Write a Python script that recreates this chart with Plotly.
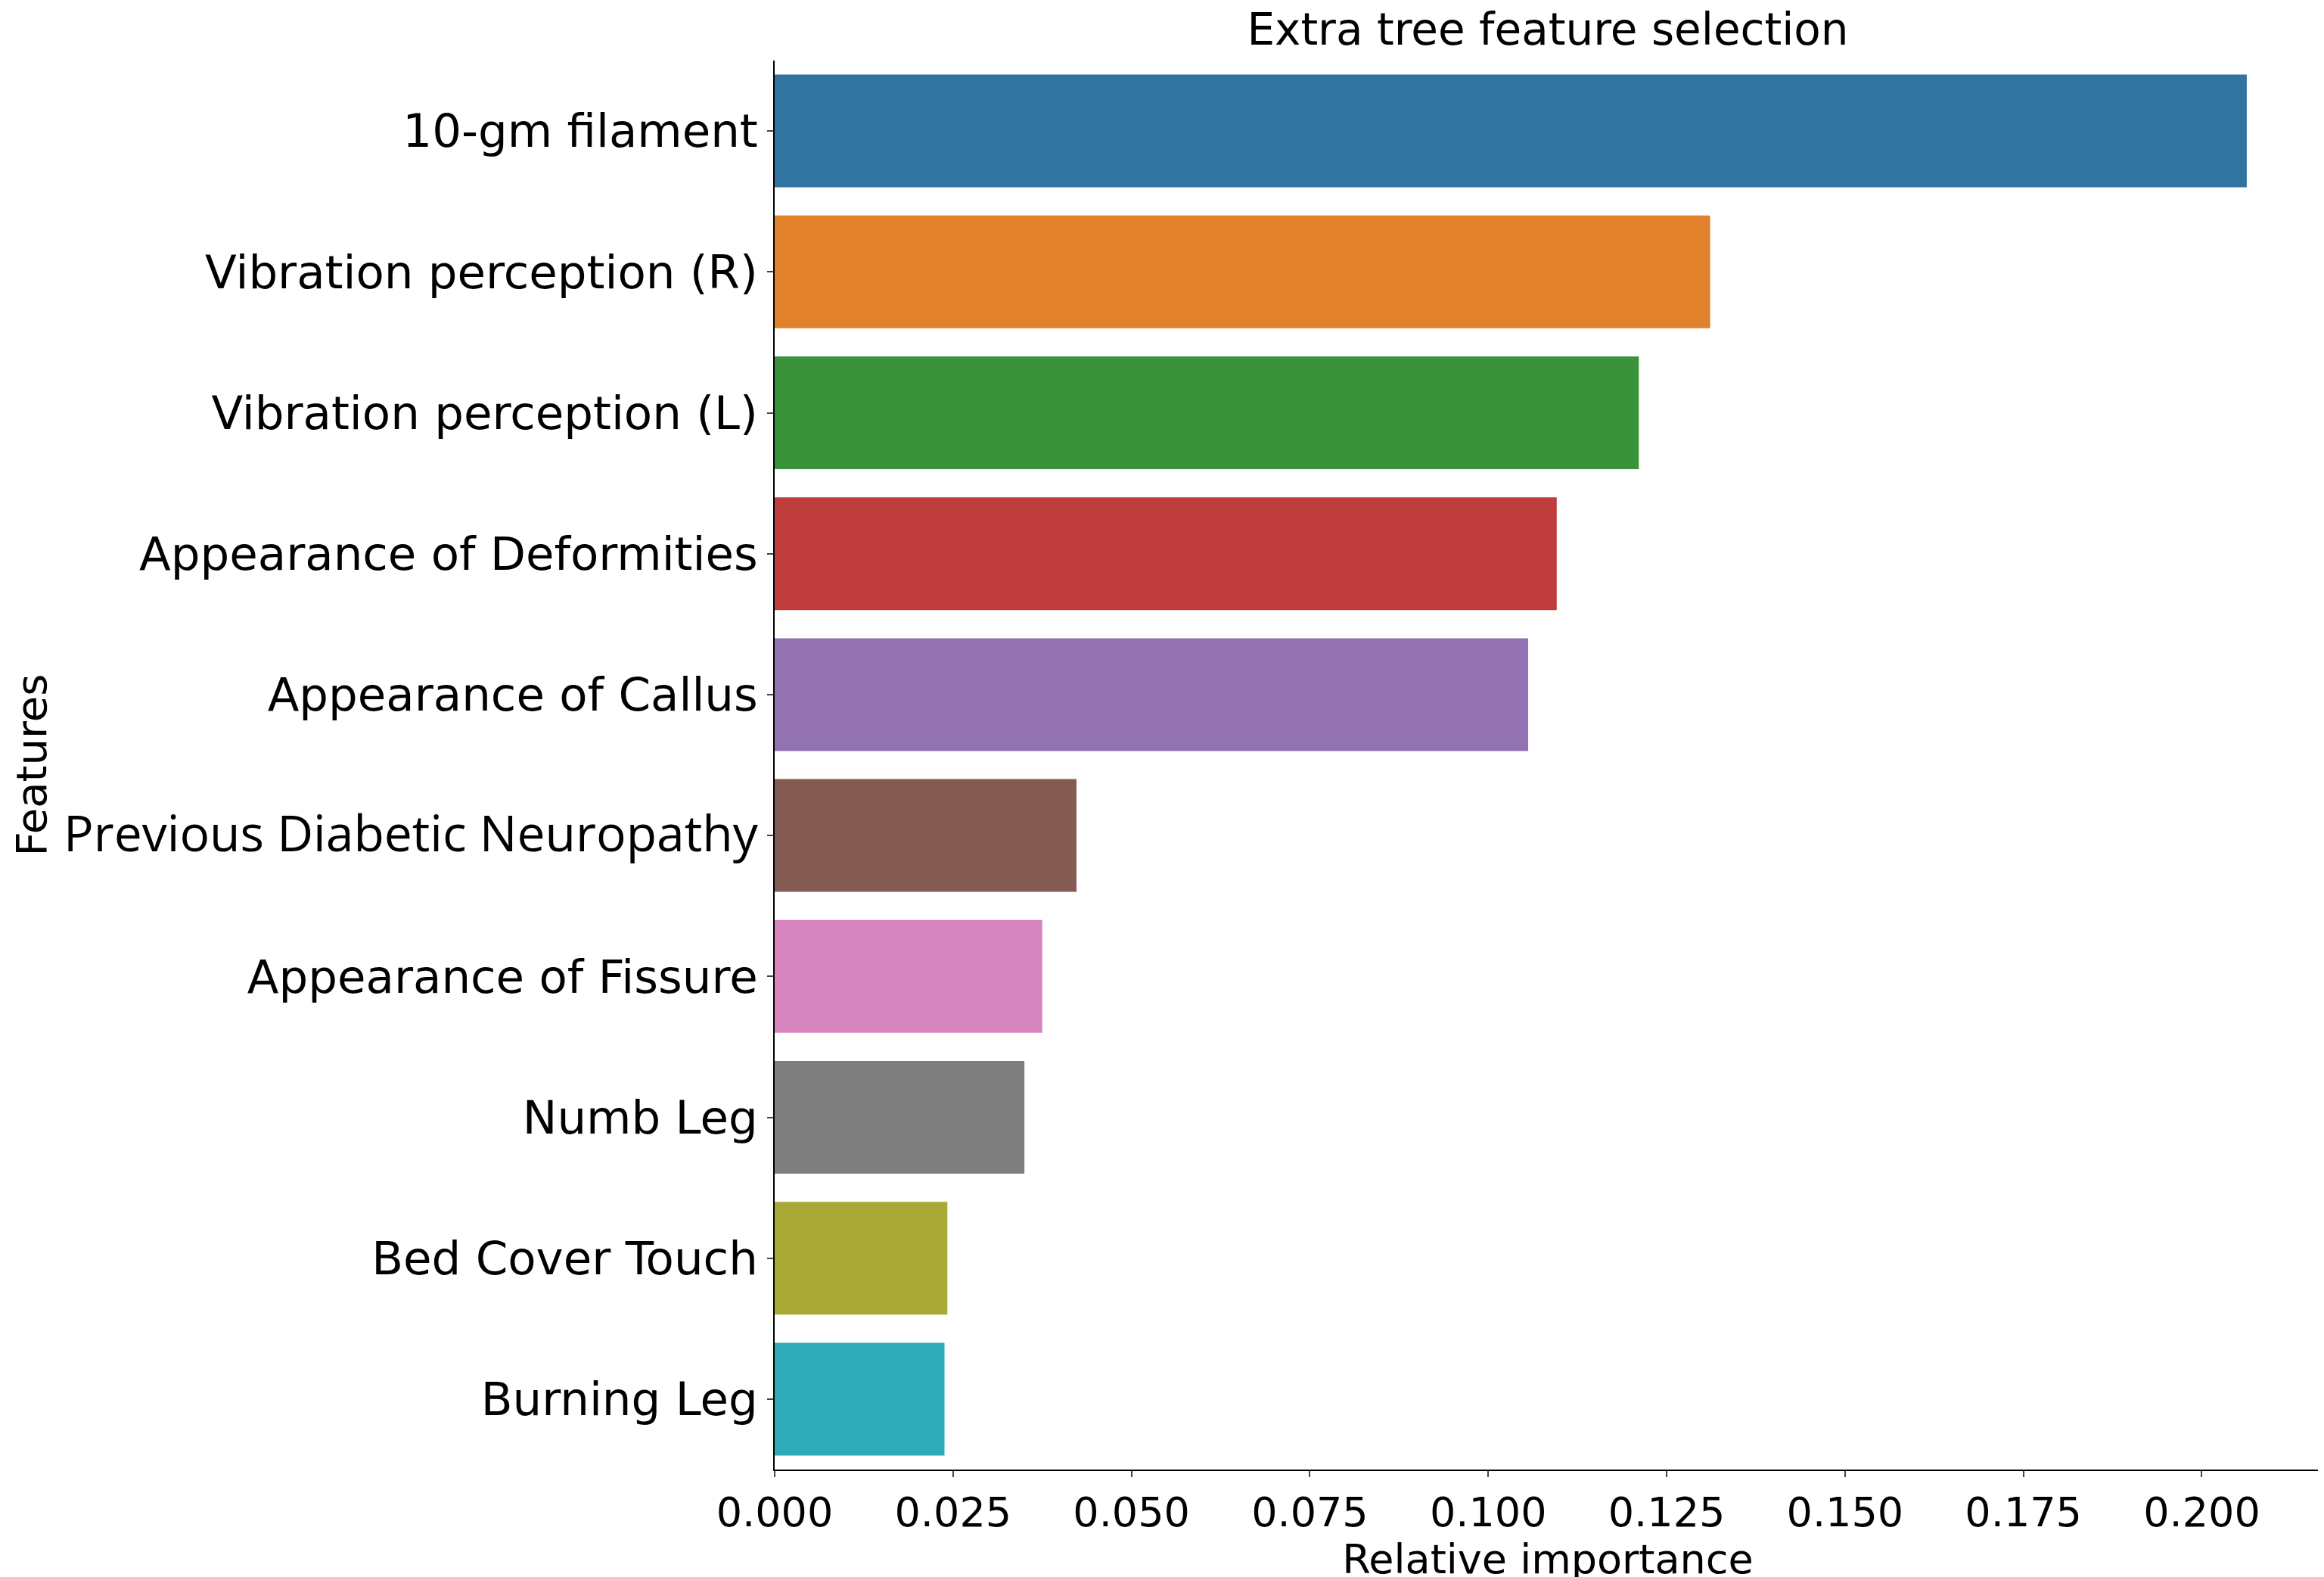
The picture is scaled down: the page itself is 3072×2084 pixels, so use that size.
import plotly.graph_objects as go

features = [
    "10-gm filament",
    "Vibration perception (R)",
    "Vibration perception (L)",
    "Appearance of Deformities",
    "Appearance of Callus",
    "Previous Diabetic Neuropathy",
    "Appearance of Fissure",
    "Numb Leg",
    "Bed Cover Touch",
    "Burning Leg",
]
importance = [0.2063, 0.1311, 0.1211, 0.1096, 0.1056, 0.0423, 0.0375, 0.0350, 0.0242, 0.0238]
colors = ["#3274a1", "#e1812c", "#3a923a", "#c03d3e", "#9372b2",
          "#845b53", "#d684bd", "#7f7f7f", "#a9aa35", "#2eabb8"]
x_ticks = [0, 0.025, 0.05, 0.075, 0.1, 0.125, 0.15, 0.175, 0.2]

tick_labels = [
    f'<span style="font-family:Open Sans;font-size:66px">{f}</span>' if f.startswith("Previous") else f
    for f in features
]

fig = go.Figure(go.Bar(
    x=importance, y=features, orientation="h",
    marker_color=colors, marker_line_width=0, width=0.8,
))

fig.update_layout(
    width=3072, height=2084,
    plot_bgcolor="white", paper_bgcolor="white",
    margin=dict(l=1016, r=12, t=72, b=150),
    font=dict(family="DejaVu Sans", size=56, color="black"),
    title=dict(text="Extra tree feature selection", x=(1016 + 3060) / 2 / 3072,
               xanchor="center", y=0.995, yanchor="top", font=dict(size=58)),
    showlegend=False,
)
fig.update_xaxes(
    range=[0, 0.2167], tickvals=x_ticks,
    ticktext=[f"{v:.3f}" for v in x_ticks], tickfont=dict(size=54),
    showline=True, linecolor="black", linewidth=2, ticks="outside",
    ticklen=8, tickwidth=2, showgrid=False, zeroline=False,
    title=dict(text="Relative importance", standoff=0, font=dict(size=54)),
)
fig.update_yaxes(
    categoryorder="array", categoryarray=features, autorange="reversed",
    tickvals=features, ticktext=tick_labels, tickfont=dict(size=61),
    showline=True, linecolor="black", linewidth=2, ticks="outside",
    ticklen=8, tickwidth=2, showgrid=False,
    title=dict(text="Features", standoff=4, font=dict(size=56)),
)
fig.write_html("out.html")
